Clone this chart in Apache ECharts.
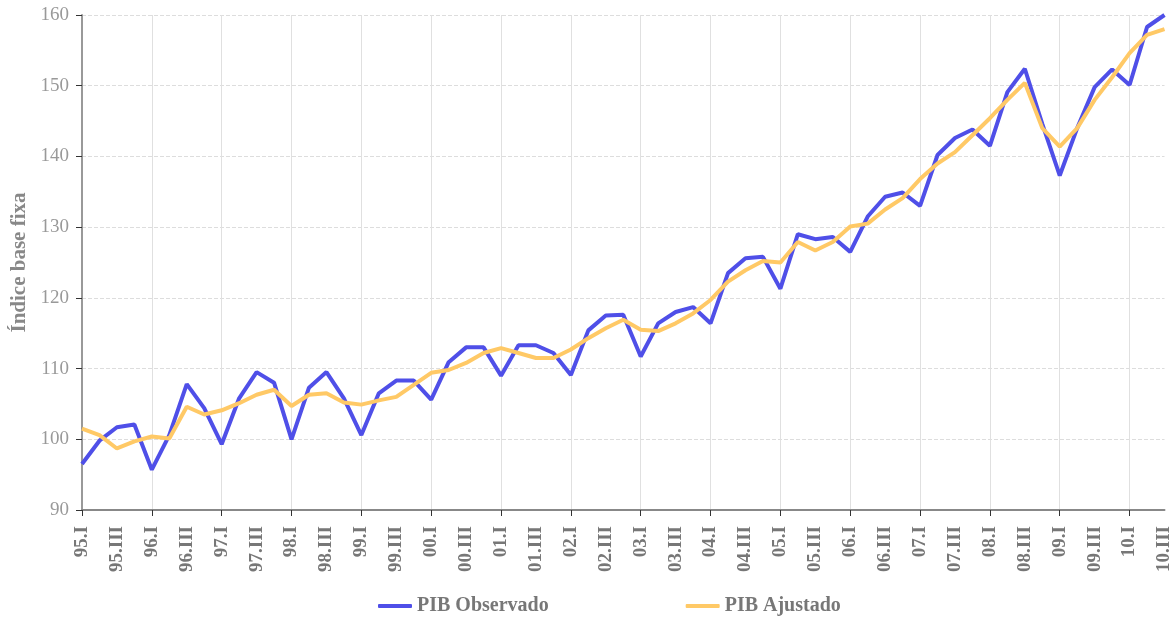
<!DOCTYPE html>
<html lang="pt">
<head>
    <meta charset="UTF-8">
    <title>PIB Observado vs Ajustado</title>
    <script src="https://cdn.jsdelivr.net/npm/echarts@6/dist/echarts.min.js" type="text/javascript"></script>
</head>
<body style="margin:0;">
<div id="pib" style="width: 1174px;height:621px;"></div>
</body>

<script type="text/javascript">
    // trimestres 95.I .. 10.III
    var anos = ['95','96','97','98','99','00','01','02','03','04','05','06','07','08','09','10'];
    var trims = ['I','II','III','IV'];
    var quarters = [];
    anos.forEach(function (a) {
        trims.forEach(function (t) { quarters.push(a + '.' + t); });
    });
    quarters = quarters.slice(0, 63);

    var observado = [
        96.5, 99.8, 101.7, 102.1, 95.7, 100.6, 107.8, 104.4,
        99.3, 105.8, 109.5, 108.0, 100.0, 107.3, 109.5, 105.8,
        100.6, 106.5, 108.3, 108.3, 105.6, 110.9, 113.0, 113.0,
        109.0, 113.3, 113.3, 112.2, 109.1, 115.4, 117.5, 117.6,
        111.7, 116.4, 118.0, 118.7, 116.4, 123.5, 125.6, 125.8,
        121.3, 129.0, 128.3, 128.6, 126.5, 131.5, 134.3, 134.9,
        133.0, 140.2, 142.6, 143.8, 141.5, 149.1, 152.4, 144.6,
        137.3, 144.0, 149.8, 152.3, 150.1, 158.3, 160.0
    ];
    var ajustado = [
        101.5, 100.6, 98.7, 99.7, 100.4, 100.1, 104.6, 103.5,
        104.1, 105.1, 106.3, 107.0, 104.7, 106.3, 106.5, 105.2,
        104.9, 105.5, 106.0, 107.7, 109.4, 109.8, 110.8, 112.2,
        112.9, 112.2, 111.5, 111.5, 112.7, 114.3, 115.7, 116.9,
        115.5, 115.3, 116.4, 117.8, 119.7, 122.3, 123.9, 125.2,
        125.0, 127.9, 126.7, 127.9, 130.1, 130.5, 132.5, 134.1,
        136.8, 139.0, 140.6, 143.0, 145.4, 148.0, 150.4, 144.0,
        141.4, 144.0, 148.0, 151.2, 154.6, 157.2, 158.0
    ];

    var fonte = 'Liberation Serif';
    var chart = echarts.init(document.getElementById('pib'));
    chart.setOption({
        textStyle: { fontFamily: fonte },
        grid: { left: 82, right: 4, top: 15, bottom: 111, containLabel: false },
        legend: {
            bottom: 0,
            left: 373,
            itemGap: 137,
            itemWidth: 34,
            itemHeight: 4,
            icon: 'roundRect',
            textStyle: { fontFamily: fonte, fontWeight: 'bold', fontSize: 20, color: '#777' },
            data: ['PIB Observado', 'PIB Ajustado']
        },
        xAxis: {
            type: 'category',
            boundaryGap: false,
            data: quarters,
            axisLine: { lineStyle: { color: '#888', width: 2 } },
            axisTick: { interval: 3, length: 6, lineStyle: { color: '#333' } },
            axisLabel: {
                interval: 1,
                rotate: 90,
                margin: 16,
                fontFamily: fonte,
                fontWeight: 'bold',
                fontSize: 19,
                color: '#777'
            },
            splitLine: { show: true, interval: 3, lineStyle: { color: '#e0e0e0', width: 1 } }
        },
        yAxis: {
            type: 'value',
            min: 90,
            max: 160,
            interval: 10,
            name: 'Índice base fixa',
            nameLocation: 'middle',
            nameGap: 50,
            nameTextStyle: { fontFamily: fonte, fontWeight: 'bold', fontSize: 21, color: '#888' },
            axisLine: { show: true, lineStyle: { color: '#999', width: 2 } },
            axisTick: { show: true, length: 6, lineStyle: { color: '#333' } },
            axisLabel: { fontFamily: fonte, fontSize: 19, color: '#999', margin: 13 },
            splitLine: { lineStyle: { color: '#ddd', type: 'dashed' } }
        },
        series: [
            {
                name: 'PIB Observado',
                type: 'line',
                data: observado,
                showSymbol: false,
                color: '#4f4fe8',
                lineStyle: { width: 4, color: '#4f4fe8' },
                z: 2
            },
            {
                name: 'PIB Ajustado',
                type: 'line',
                data: ajustado,
                showSymbol: false,
                color: '#ffc966',
                lineStyle: { width: 4, color: '#ffc966' },
                z: 3
            }
        ]
    });
</script>
</html>
